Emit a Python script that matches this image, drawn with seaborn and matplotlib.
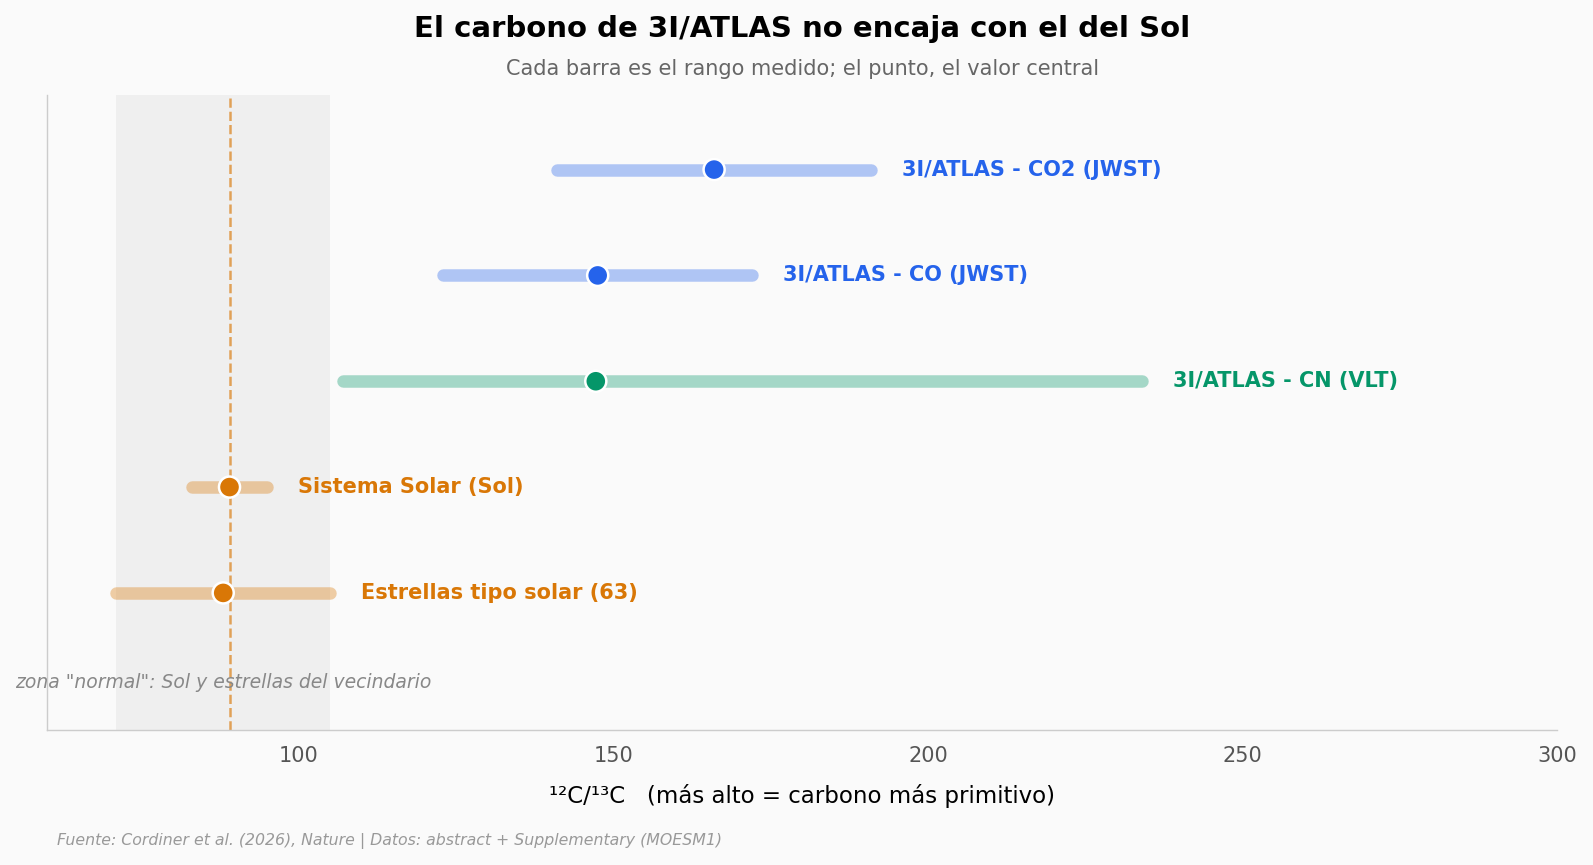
import matplotlib
matplotlib.use("Agg")
import matplotlib.pyplot as plt
import seaborn as sns
import pandas as pd

# Datos (de arriba hacia abajo)
labels = ["3I/ATLAS - CO2 (JWST)", "3I/ATLAS - CO (JWST)", "3I/ATLAS - CN (VLT)",
          "Sistema Solar (Sol)", "Estrellas tipo solar (63)"]
central = [166, 147.5, 147.2, 89, 88]
low = [141, 123, 107, 83, 71]
high = [191, 172, 234, 95, 105]
grupo = ["jwst", "jwst", "vlt", "sol", "sol"]

zona_normal = (71, 105)
valor_sol = 89
xticks = [100, 150, 200, 250, 300]

colores = {"jwst": "#2563eb", "vlt": "#059669", "sol": "#d97706"}

df = pd.DataFrame({"label": labels, "central": central, "low": low,
                   "high": high, "grupo": grupo})
df["y"] = list(range(len(df) - 1, -1, -1))

sns.set_style("white")
BG = "#fafafa"
fig, ax = plt.subplots(figsize=(15.93, 8.65), dpi=100)
fig.patch.set_facecolor(BG)
ax.set_facecolor(BG)
fig.subplots_adjust(left=0.0295, right=0.9777, top=0.8896, bottom=0.1555)

# zona "normal"
ax.axvspan(zona_normal[0], zona_normal[1], color="#e6e6e6", alpha=0.55, lw=0, zorder=0)
ax.axvline(valor_sol, color="#d97706", alpha=0.65, ls="--", lw=1.8, zorder=1)

# barras de rango
for _, r in df.iterrows():
    ax.hlines(r["y"], r["low"], r["high"], color=colores[r["grupo"]], alpha=0.35,
              lw=9, capstyle="round", zorder=2)
    ax.text(r["high"] + 4.9, r["y"], r["label"], color=colores[r["grupo"]],
            fontsize=15, fontweight="bold", va="center", ha="left")

sns.scatterplot(data=df, x="central", y="y", hue="grupo", palette=colores, s=230,
                edgecolor="white", linewidth=1.8, legend=False, zorder=3, ax=ax)

ax.text(sum(zona_normal) / 2, -0.85, 'zona "normal": Sol y estrellas del vecindario',
        ha="center", va="center", fontsize=13.5, style="italic", color="#888888")

ax.set_xlim(60, 300)
ax.set_ylim(-1.3, 4.7)
ax.set_xticks(xticks)
ax.set_yticks([])
ax.tick_params(axis="x", labelsize=15, colors="#555555", length=6, width=0.8, pad=5)
ax.set_xlabel("¹²C/¹³C   (más alto = carbono más primitivo)", fontsize=16.5,
              color="black", labelpad=13)
ax.set_ylabel("")
for s in ["top", "right"]:
    ax.spines[s].set_visible(False)
for s in ["left", "bottom"]:
    ax.spines[s].set_color("#cccccc")
    ax.spines[s].set_linewidth(1)

fig.text(0.5035, 0.967, "El carbono de 3I/ATLAS no encaja con el del Sol",
         ha="center", va="center", fontsize=21, fontweight="bold", color="black")
fig.text(0.5035, 0.92, "Cada barra es el rango medido; el punto, el valor central",
         ha="center", va="center", fontsize=15, color="#666666")
fig.text(0.0357, 0.028,
         "Fuente: Cordiner et al. (2026), Nature | Datos: abstract + Supplementary (MOESM1)",
         ha="left", va="center", fontsize=11.3, style="italic", color="#999999")

fig.savefig("out.png", dpi=100, facecolor=BG)
